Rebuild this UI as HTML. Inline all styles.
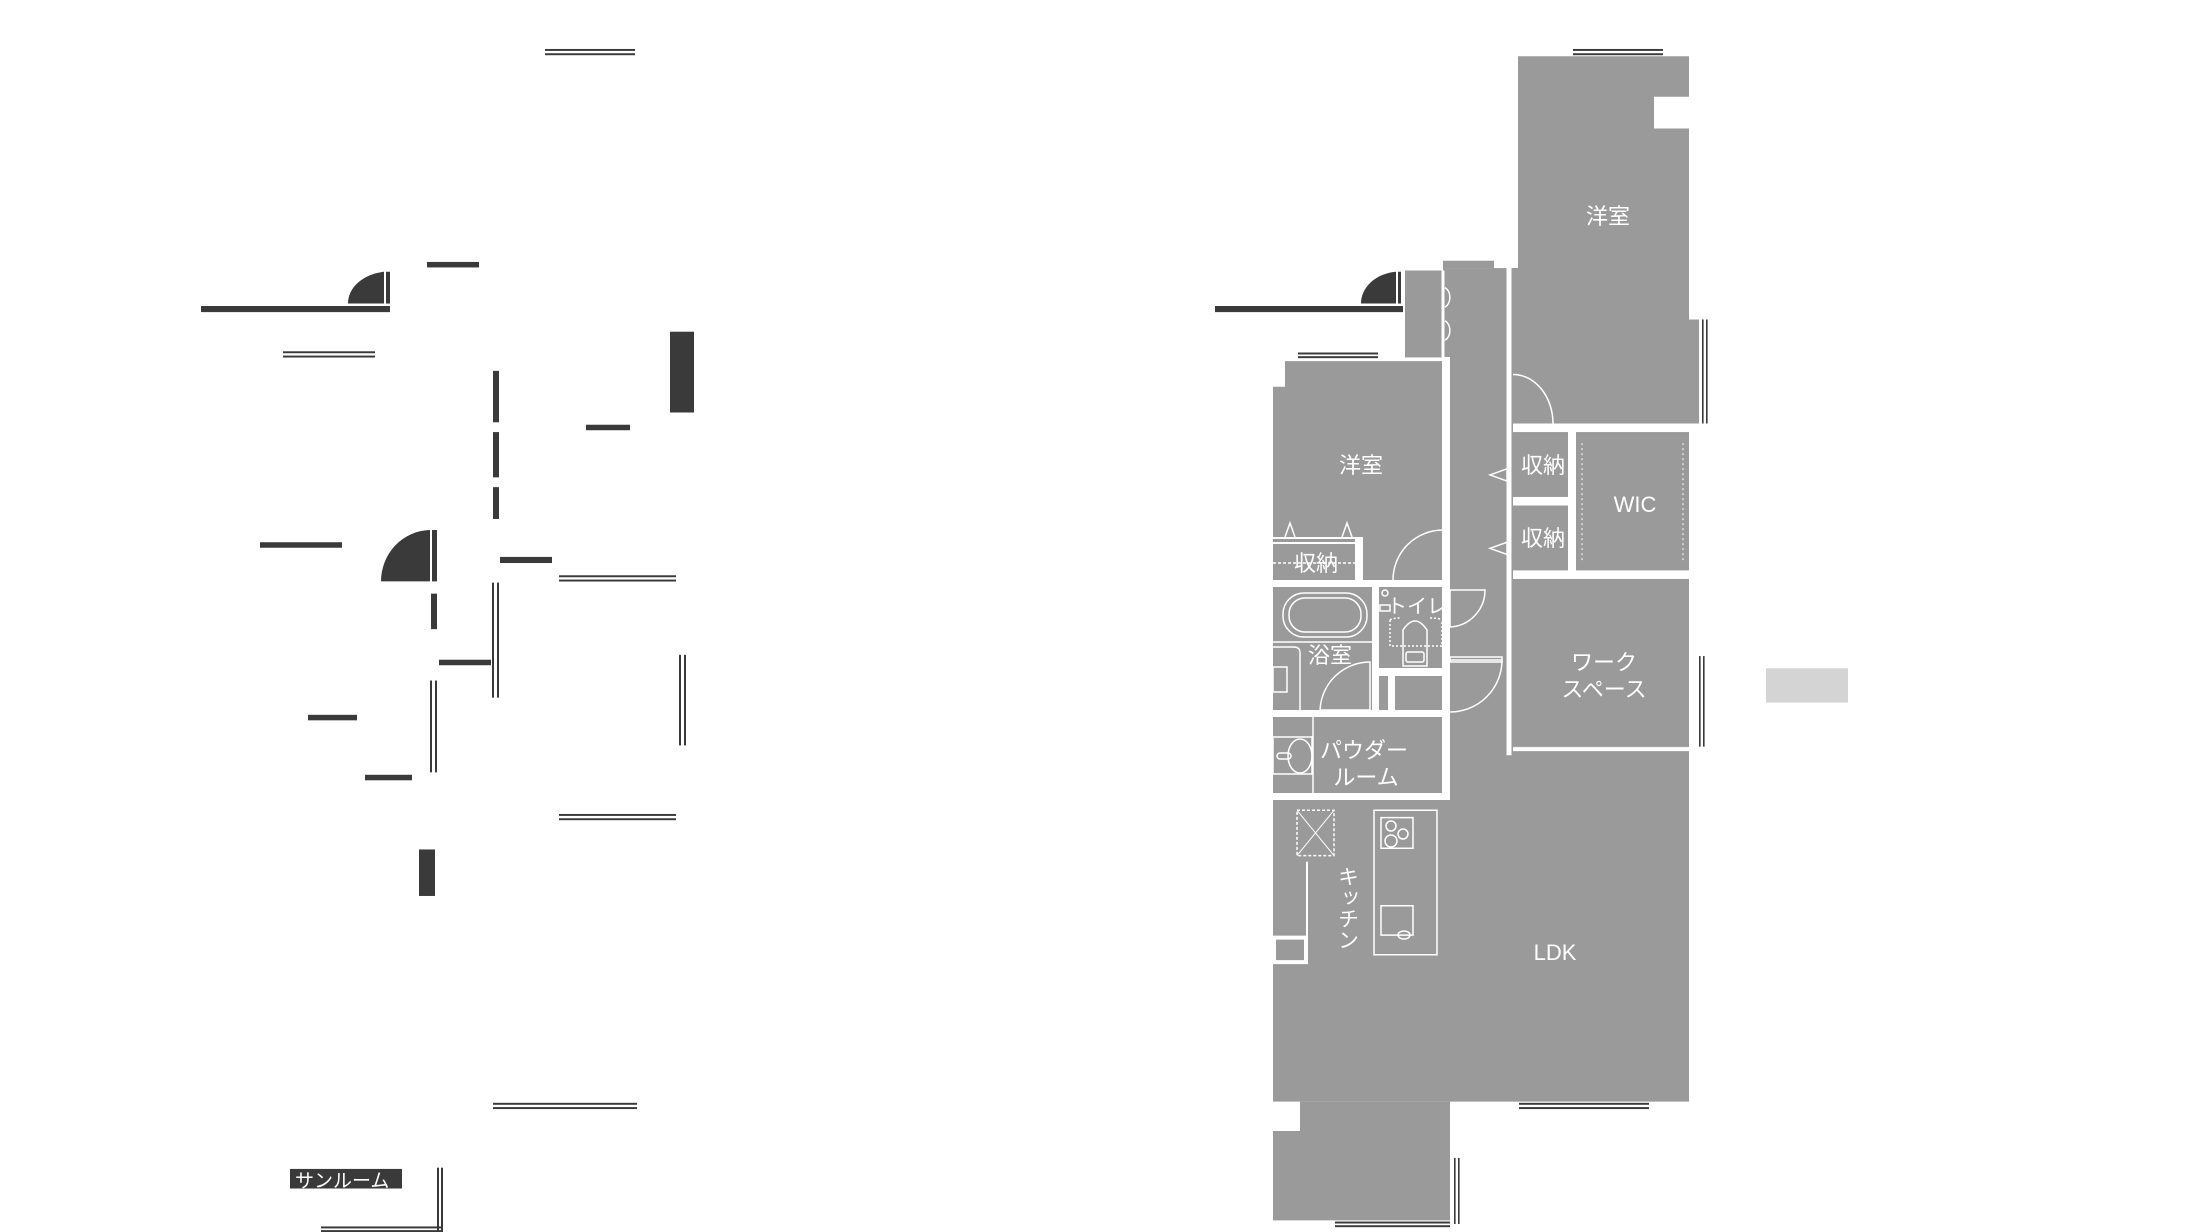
<!DOCTYPE html><html><head><meta charset="utf-8"><style>body{margin:0;background:#fff}svg{display:block}text{font-family:"Liberation Sans","Noto Sans CJK JP",sans-serif;fill:#fff}.s *{vector-effect:non-scaling-stroke}</style></head><body>
<svg width="2206" height="1232" viewBox="0 0 2206 1232">
<g class="s" transform="scale(1,1.224)">
<g fill="#3a3a3a" transform="translate(-2,0)">
<rect x="547" y="40" width="90" height="1.6"/><rect x="547" y="43.5" width="90" height="1.6"/>
<rect x="429" y="214" width="52" height="4.5"/>
<rect x="203" y="250" width="189" height="5"/>
<path d="M350 248 A42 26 0 0 1 386 222 L386 248 Z"/><rect x="388" y="222" width="4" height="26"/>
<rect x="285" y="287" width="92" height="1.6"/><rect x="285" y="290.5" width="92" height="1.6"/>
<rect x="672" y="271" width="24" height="66"/>
<rect x="495" y="303" width="6" height="42"/><rect x="495" y="353" width="6" height="37"/><rect x="495" y="398" width="6" height="26"/>
<rect x="588" y="347" width="44" height="4.5"/>
<rect x="262" y="443" width="82" height="4.5"/>
<path d="M383 475 A50 42 0 0 1 432 433 L432 475 Z"/><rect x="434" y="433" width="5" height="42"/>
<rect x="502" y="455" width="52" height="5"/>
<rect x="561" y="470" width="117" height="1.6"/><rect x="561" y="473.5" width="117" height="1.6"/>
<rect x="433" y="485" width="6" height="29"/>
<rect x="441" y="539" width="52" height="4.5"/>
<rect x="494" y="476" width="2" height="94"/><rect x="499" y="476" width="2" height="94"/>
<rect x="681" y="535" width="2" height="74"/><rect x="686" y="535" width="2" height="74"/>
<rect x="310" y="584" width="49" height="4.5"/>
<rect x="432" y="556" width="2" height="75"/><rect x="437" y="556" width="2" height="75"/>
<rect x="367" y="633" width="47" height="4.5"/>
<rect x="561" y="665" width="117" height="1.6"/><rect x="561" y="668.5" width="117" height="1.6"/>
<rect x="421" y="694" width="16" height="38"/>
<rect x="495" y="901" width="144" height="1.6"/><rect x="495" y="904.5" width="144" height="1.6"/>
<rect x="292" y="955" width="112" height="16"/>
<rect x="439" y="954" width="2" height="52"/><rect x="443" y="954" width="2" height="52"/>
<rect x="323" y="1002" width="122" height="1.6"/><rect x="323" y="1005" width="122" height="1.6"/>
</g>
<g fill="#3a3a3a">
<rect x="1215" y="250" width="188" height="5"/>
<path d="M1361 248 A39 26 0 0 1 1396 222 L1396 248 Z"/><rect x="1398" y="222" width="3" height="26"/>
</g>
<g fill="#9a9a9a">
<path d="M1518 46 H1689 V79 H1654 V105 H1689 V261 H1699 V346 H1513 V219 H1518 Z"/>
<rect x="1443" y="219" width="70" height="433"/>
<rect x="1405" y="221" width="38" height="71"/>
<rect x="1443" y="213" width="51" height="6"/>
<path d="M1285 295 H1445 V652 H1273 V316 H1285 Z"/>
<rect x="1513" y="353" width="55" height="53"/><rect x="1513" y="413" width="55" height="53"/>
<rect x="1576" y="353" width="113" height="113"/>
<rect x="1513" y="473" width="176" height="137"/>
<rect x="1273" y="617" width="416" height="283"/>
<rect x="1513" y="610" width="176" height="10"/>
<path d="M1273 900 H1450 V997 H1273 V924 H1300 V900 Z"/>
</g>
<g stroke="#fff" stroke-width="3" fill="none">
<line x1="1509" y1="219" x2="1509" y2="617" stroke-width="5"/>
<line x1="1513" y1="470" x2="1689" y2="470" stroke-width="5"/>
<line x1="1513" y1="612" x2="1689" y2="612" stroke-width="4"/>
<line x1="1572" y1="350" x2="1572" y2="470" stroke-width="5"/>
<line x1="1513" y1="410" x2="1568" y2="410" stroke-width="5"/>
<line x1="1443" y1="221" x2="1443" y2="292" stroke-width="3"/>
<rect x="1297" y="662" width="37" height="37" stroke-width="1.5" stroke-dasharray="3 2"/>
<line x1="1297" y1="662" x2="1334" y2="699" stroke-width="1"/><line x1="1334" y1="662" x2="1297" y2="699" stroke-width="1"/>
<rect x="1274" y="766" width="32" height="20" stroke-width="4"/>
<line x1="1307" y1="704" x2="1307" y2="786" stroke-width="2"/>
<rect x="1374" y="662" width="63" height="118" stroke-width="1.5"/>
<rect x="1381" y="668" width="32" height="25" stroke-width="1.5"/>
<rect x="1381" y="740" width="32" height="24" stroke-width="1.5"/>
<path d="M1513 306 A40 40 0 0 1 1553 346" stroke-width="1.5"/>
<path d="M1582 362 V460 M1683 362 V460" stroke-width="1" stroke-dasharray="2 3"/>
<path d="M1445 235 a9 9 0 0 1 0 16 M1445 262 a9 9 0 0 1 0 16" stroke-width="1.5"/>
<path d="M1490 388 L1507 383 V393 Z M1490 448 L1507 443 V453 Z" stroke-width="1.5"/>
</g>
<g fill="#3a3a3a">
<rect x="1573" y="40" width="90" height="1.6"/><rect x="1573" y="43.5" width="90" height="1.6"/>
<rect x="1298" y="288" width="80" height="1.6"/><rect x="1298" y="291" width="80" height="1.6"/>
<rect x="1519" y="901" width="130" height="1.6"/><rect x="1519" y="904.5" width="130" height="1.6"/>
<rect x="1335" y="998" width="115" height="1.6"/><rect x="1335" y="1001" width="115" height="1.6"/>
<rect x="1454" y="946" width="1.6" height="54"/><rect x="1458" y="946" width="1.6" height="54"/>
<rect x="1699" y="536" width="1.6" height="74"/><rect x="1703" y="536" width="1.6" height="74"/>
<rect x="1702" y="261" width="1.6" height="85"/><rect x="1706" y="261" width="1.6" height="85"/>
</g>
<rect x="1766" y="546" width="82" height="28" fill="#d4d4d4"/>
</g>
<g fill="#fff">
<rect x="1442" y="357" width="8" height="443"/>
<rect x="1273" y="537" width="84" height="2"/><rect x="1273" y="542" width="84" height="2"/>
<rect x="1355" y="537" width="8" height="43"/>
<rect x="1270" y="580" width="180" height="7"/>
<rect x="1372" y="587" width="7" height="130"/>
<rect x="1379" y="668" width="64" height="8"/>
<rect x="1388" y="676" width="7" height="41"/>
<rect x="1270" y="710" width="172" height="7"/>
<rect x="1270" y="793" width="180" height="7"/>
</g>
<g stroke="#fff" fill="none" stroke-width="1.5">
<line x1="1273" y1="563" x2="1355" y2="563" stroke-dasharray="3 2"/>
<path d="M1285 537 L1290 523 L1295 537 M1342 537 L1347 523 L1352 537"/>
<rect x="1283" y="593" width="84" height="44" rx="21"/>
<rect x="1289" y="598" width="72" height="34" rx="16"/>
<line x1="1273" y1="642" x2="1372" y2="642"/>
<path d="M1273 647 H1294 Q1300 647 1300 653 V710"/>
<rect x="1273" y="667" width="14" height="25"/>
<path d="M1320 712 A50 50 0 0 1 1370 662 V712"/>
<rect x="1321" y="710" width="49" height="6"/>
<path d="M1393 580 A50 50 0 0 1 1443 530 V580"/>
<path d="M1485 590 A37 37 0 0 1 1450 627 V590 Z"/>
<path d="M1450 660 H1502 A52 52 0 0 1 1450 712"/>
<rect x="1450" y="657" width="52" height="5"/>
<rect x="1382" y="590" width="6" height="6" rx="3"/>
<rect x="1380" y="605" width="10" height="6"/>
<path d="M1390 620 Q1392 618 1400 618 M1430 618 Q1440 618 1442 620 M1390 620 V646 H1442 V620" stroke-dasharray="2 2"/>
<path d="M1403 666 V630 Q1415 612 1427 630 V666 Z"/>
<rect x="1406" y="652" width="18" height="10" rx="2"/>
<line x1="1313" y1="717" x2="1313" y2="793"/>
<rect x="1273" y="737" width="39" height="37"/>
<ellipse cx="1300" cy="756" rx="12" ry="17"/>
<rect x="1277" y="753" width="14" height="6" rx="3"/>
<path d="M1443 673 V763 M1447 673 V763"/>
<path d="M1300 795 H1367 M1300 798 H1367"/>
<circle cx="1391" cy="826" r="5"/><circle cx="1391" cy="841" r="6"/><circle cx="1403" cy="834" r="5"/>
<ellipse cx="1404" cy="935" rx="6" ry="4"/>
</g>
<text x="295" y="1187" font-size="19">サンルーム</text>
<g font-size="22" text-anchor="middle">
<text x="1608" y="224">洋室</text>
<text x="1361" y="473">洋室</text>
<text x="1316" y="571">収納</text>
<text x="1543" y="473">収納</text>
<text x="1543" y="546">収納</text>
<text x="1635" y="512">WIC</text>
<text x="1604" y="670">ワーク</text>
<text x="1604" y="697">スペース</text>
<text x="1555" y="960">LDK</text>
<text x="1330" y="663">浴室</text>
<text x="1364" y="758">パウダー</text>
<text x="1366" y="785">ルーム</text>
<text x="1417" y="613" font-size="20">トイレ</text>
</g>
<text x="1347" y="866" font-size="21" style="writing-mode:vertical-rl">キッチン</text>
</svg>
</body></html>
